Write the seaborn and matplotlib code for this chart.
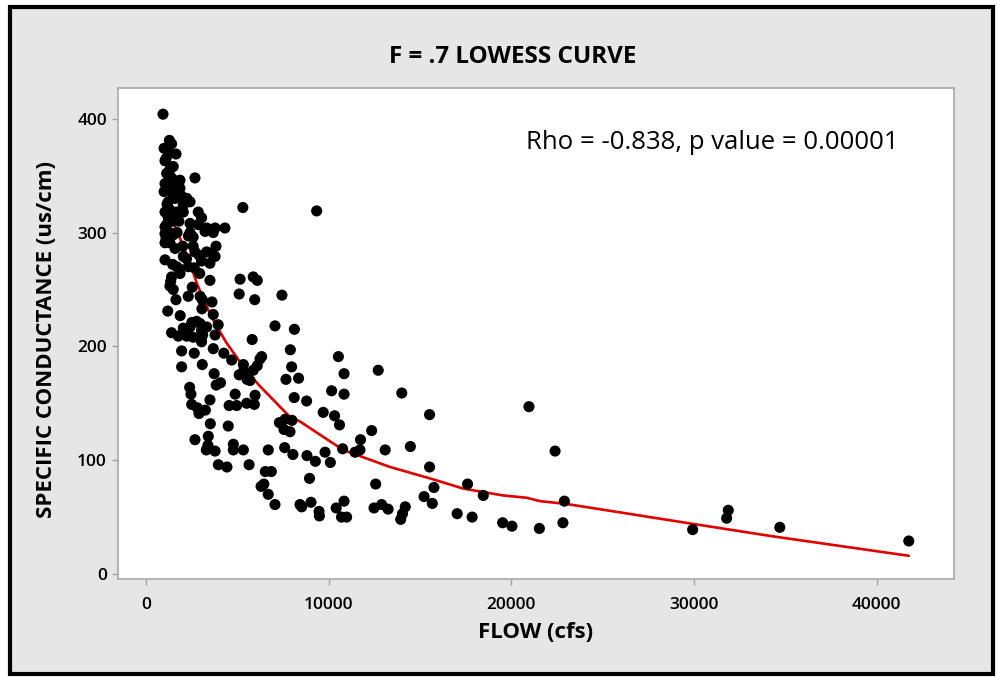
import matplotlib
matplotlib.use("Agg")
import matplotlib.pyplot as plt
import seaborn as sns
import pandas as pd
from matplotlib.patches import Rectangle

# ---- data ----
flow = [
    930, 1280, 1400, 990, 1640, 1040, 1490, 2680, 1130, 1040, 1400, 1680, 1860, 1860, 990,
    1490, 1490, 1950, 2230, 1220, 2410, 2040, 5300, 9340, 1680, 1040, 2040, 2860, 1220, 3040,
    2410, 2860, 1130, 3320, 3780, 4320, 1040, 2410, 1040, 1490, 2320, 2580, 3230, 3680, 1040,
    1310, 1590, 2010, 2580, 3830,
    1100, 1300, 1200, 1600, 1300, 1800, 1100, 1500, 1700, 1300, 1150, 1250,
    3320, 3590, 3780, 3500, 1040, 1460, 2040, 2220, 2310, 2640, 3040, 2910, 2680, 1820, 1860,
    1400, 1350, 1310, 1490, 2940, 3500, 2530, 1680, 5150, 5870, 6090,
    2310, 2960, 5100, 7440, 1640, 3080, 3610, 5950, 1190, 1870, 3060, 3680,
    1400, 1770, 2040, 2410, 2770, 2960, 3040, 3320, 3040, 2580, 2230, 3780, 2510, 3100, 3040,
    3950, 7060, 8120, 5810,
    3680, 1950, 2640, 4260, 4690, 5330, 1950, 3080, 7900, 10530, 6330, 6240, 7970, 6090, 5870,
    10840, 12710, 7660, 8350, 3730, 4080, 3840, 5100, 5330, 5690, 5530,
    10160, 10840, 14000, 8110, 8790, 15520, 9700, 10320, 5970, 5510, 4880, 4550, 4960, 2390,
    2460, 2500, 2810, 2900, 3250, 3500, 5930, 20960,
    10590, 7300, 7620, 7990, 7550, 7880, 12350, 4500, 3520, 2680, 3410, 11740,
    6690, 7590, 8040, 8810, 9270, 9800, 10090, 10760, 11440, 11710, 13090, 14470, 15520, 3300,
    3780, 4780, 4780, 5330, 3390, 3960, 4430, 5640, 22390,
    6530, 6860, 8950, 6300, 6450, 12570, 15760, 6690, 15220, 15670, 7060, 8430, 8520, 9030,
    10840, 10410, 12480, 12900, 13250, 14190, 17600, 18460, 22900, 31870,
    9470, 9490, 10700, 10980, 14040, 13940, 17030, 17850, 19520, 20030, 21530, 22820, 29920,
    31780, 34690, 41750,
]
conductance = [
    404, 381, 378, 374, 369, 363, 358, 348, 352, 343, 348, 345, 346, 339, 336,
    338, 333, 332, 330, 327, 327, 324, 322, 319, 318, 318, 318, 318, 313, 313,
    308, 307, 307, 304, 304, 304, 305, 300, 299, 298, 297, 296, 301, 300, 291,
    291, 286, 288, 288, 288,
    365, 355, 340, 330, 320, 310, 295, 310, 300, 300, 325, 370,
    283, 282, 279, 273, 276, 272, 279, 277, 270, 269, 275, 280, 283, 268, 264,
    261, 257, 253, 250, 264, 258, 252, 270, 259, 261, 258,
    244, 244, 246, 245, 241, 241, 239, 241, 231, 227, 233, 228,
    212, 209, 216, 217, 222, 220, 214, 217, 208, 208, 209, 210, 221, 210, 204,
    219, 218, 215, 206,
    198, 196, 194, 194, 188, 184, 182, 184, 197, 191, 191, 189, 182, 183, 179,
    176, 179, 171, 172, 176, 168, 166, 175, 178, 170, 171,
    161, 158, 159, 155, 152, 140, 142, 139, 157, 150, 158, 148, 148, 164,
    158, 149, 146, 141, 144, 153, 149, 147,
    131, 133, 136, 135, 127, 125, 126, 130, 132, 118, 121, 118,
    109, 111, 105, 104, 99, 107, 98, 110, 107, 109, 109, 112, 94, 109,
    108, 114, 109, 109, 113, 96, 94, 96, 108,
    90, 90, 84, 77, 79, 79, 76, 70, 68, 62, 61, 61, 59, 63,
    64, 58, 58, 61, 57, 59, 79, 69, 64, 56,
    55, 51, 50, 50, 53, 48, 53, 50, 45, 42, 40, 45, 39,
    49, 41, 29,
]

# LOWESS curve (F = 0.7) points
curve_flow = [1000, 1680, 2040, 2410, 2770, 3230, 3680, 4410, 5510, 6240, 7150, 7880,
              8430, 10790, 13360, 15540, 17370, 19550, 20830, 21570, 23030, 29950,
              34340, 41750]
curve_sc = [328, 302, 288, 273, 256, 238, 223, 203, 178, 165, 150, 138,
            134, 109, 94, 84, 75, 69, 67, 64, 61.5, 44, 33, 16]

x_ticks = [0, 10000, 20000, 30000, 40000]
y_ticks = [0, 100, 200, 300, 400]

title = "F = .7 LOWESS CURVE"
x_label = "FLOW (cfs)"
y_label = "SPECIFIC CONDUCTANCE (us/cm)"
annotation = "Rho = -0.838, p value = 0.00001"

pts = pd.DataFrame({"flow": flow, "sc": conductance})
curve = pd.DataFrame({"flow": curve_flow, "sc": curve_sc})

sns.set_style("white")
plt.rcParams["font.family"] = ["Open Sans", "DejaVu Sans"]
plt.rcParams["text.color"] = "black"
plt.rcParams["axes.labelcolor"] = "black"

W, H = 997, 677
fig = plt.figure(figsize=(W / 100, H / 100), dpi=100, facecolor="white")

# outer gray panel with black frame
fig.patches.append(Rectangle((9.5 / W, 1 - 674 / H), (993 - 9.5) / W, (674 - 6.5) / H,
                             transform=fig.transFigure, facecolor="#e6e6e6",
                             edgecolor="black", linewidth=3, zorder=-5))

ax = fig.add_axes([118 / W, 1 - 579 / H, (954 - 118) / W, (579 - 88) / H])
ax.set_zorder(1)
ax.set_facecolor("white")

sns.lineplot(data=curve, x="flow", y="sc", sort=False, color="#e00000",
             linewidth=1.9, ax=ax, zorder=2)
sns.scatterplot(data=pts, x="flow", y="sc", color="black", s=64,
                edgecolor="none", linewidth=0, ax=ax, zorder=3)

ax.set_xlim(-1533, 44225)
ax.set_ylim(-4.4, 427)
ax.set_xticks(x_ticks)
ax.set_yticks(y_ticks)
ax.set_xticklabels([str(v) for v in x_ticks], fontsize=12.5, fontweight="semibold")
ax.set_yticklabels([str(v) for v in y_ticks], fontsize=12.5, fontweight="semibold")
ax.tick_params(axis="both", direction="out", length=4, width=1, color="#a0a0a0",
               labelcolor="black", bottom=True, left=True)
ax.tick_params(axis="x", pad=9)
ax.tick_params(axis="y", pad=4)
for sp in ax.spines.values():
    sp.set_color("#a8a8a8")
    sp.set_linewidth(1.2)
    sp.set_visible(True)

ax.set_xlabel(x_label, fontsize=16, fontweight="bold", color="black")
ax.set_ylabel(y_label, fontsize=16, fontweight="bold", color="black")
ax.xaxis.set_label_coords(0.5, (579 - 632) / 491)
ax.xaxis.label.set_va("center")
ax.yaxis.set_label_coords((47 - 118) / 836, (579 - 339) / 491)
ax.yaxis.label.set_va("center")

fig.text(513 / W, 1 - 57 / H, title, ha="center", va="center",
         fontsize=17.5, fontweight="bold", color="black")
ax.text(20800, 379, annotation, ha="left", va="center", fontsize=18.5, color="black")

fig.savefig("out.png", dpi=100, facecolor="white")
